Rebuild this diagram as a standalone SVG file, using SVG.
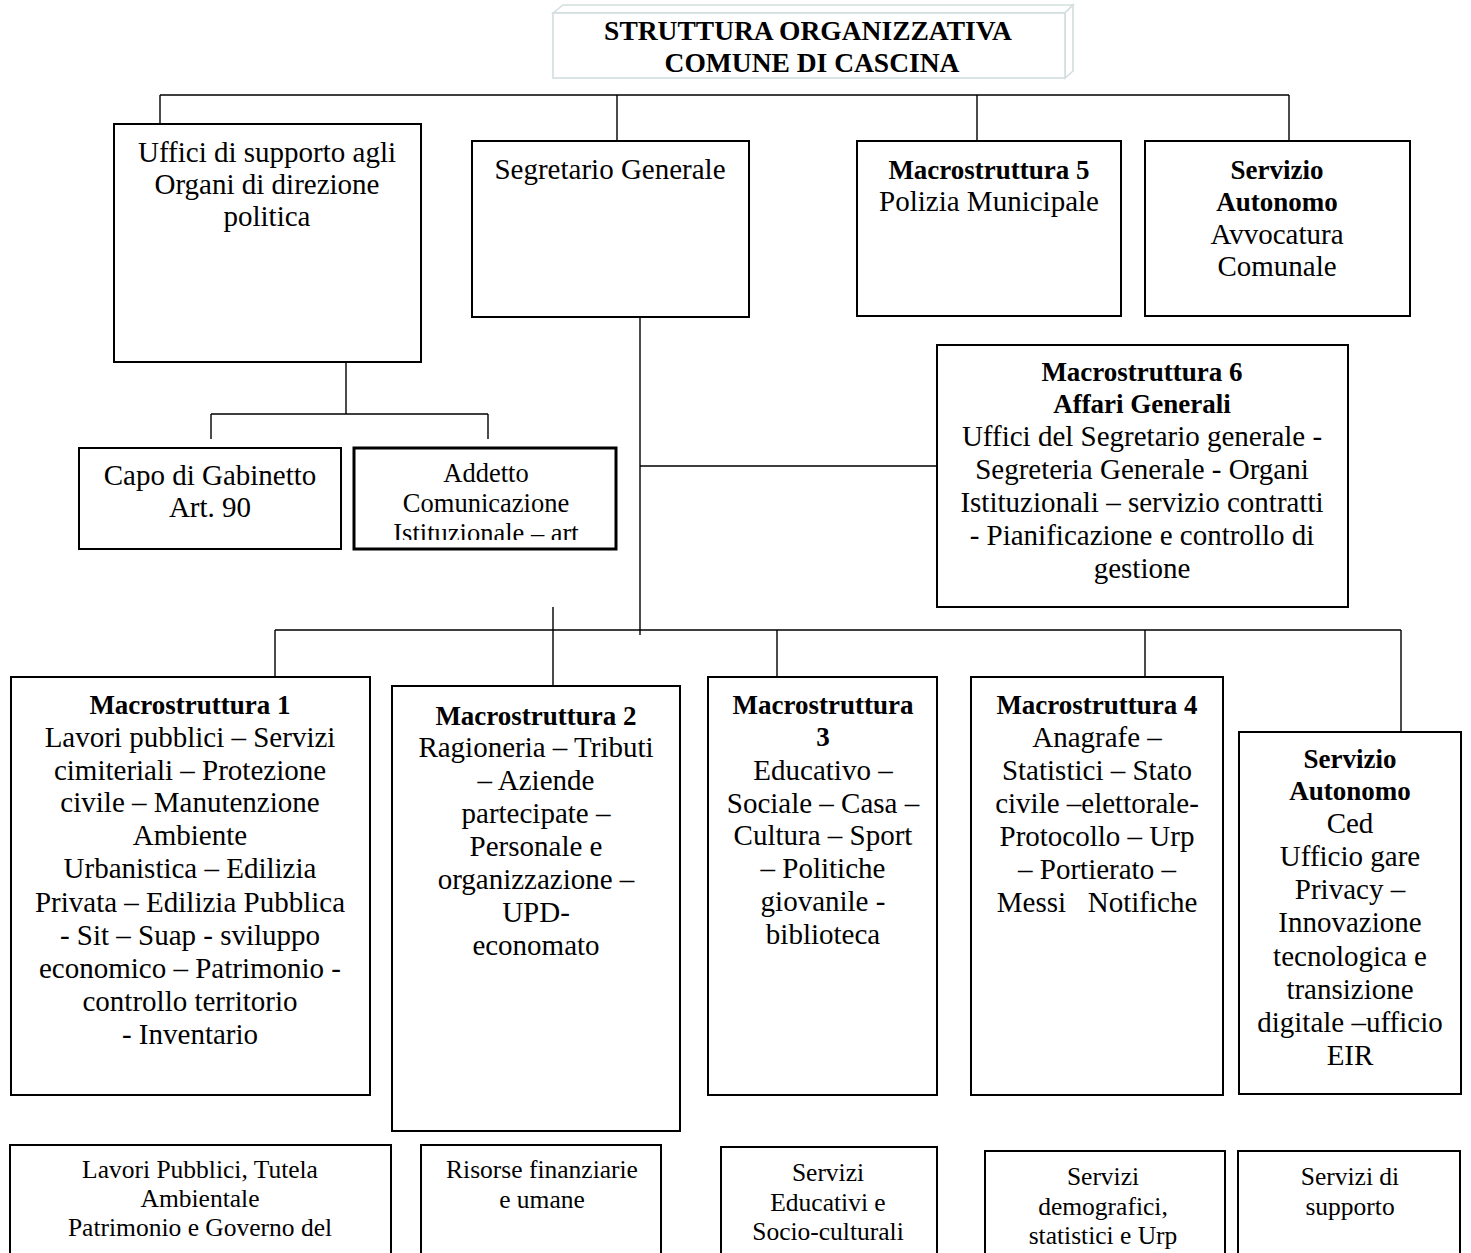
<svg xmlns="http://www.w3.org/2000/svg" width="1471" height="1253" viewBox="0 0 1471 1253">
<style>
.box{fill:#fff;stroke:#000;stroke-width:2}
.thick{stroke-width:3}
.ln{fill:none;stroke:#000;stroke-width:1.4}
.tb{fill:#fff;stroke:#d3dede;stroke-width:1.6}
text{fill:#000;text-anchor:middle}
.r{font-size:29px}
.b{font-size:27px;font-weight:bold}
.s{font-size:26.5px}
.t{font-size:25.5px}
.h{font-size:27.5px;font-weight:bold}
</style>
<defs>
<clipPath id="clipAdd"><rect x="356" y="450" width="259" height="90"/></clipPath>
</defs>
<rect width="1471" height="1253" fill="#fff"/>

<g id="connectors">
<path class="ln" d="M160 95H1289M160 95V124M617 95V141M977 95V141M1289 95V141"/>
<path class="ln" d="M346 362V414M211 414H488M211 414V439M488 414V439"/>
<path class="ln" d="M640 317V635M640 466H937"/>
<path class="ln" d="M275 630H1401M275 630V677M553 607V686M777 630V677M1145 630V677M1401 630V732"/>
</g>

<g font-family="'Liberation Serif','DejaVu Serif',serif">
<g id="title">
<polygon class="tb" points="553,13 563,5 1073,5 1065,13"/>
<polygon class="tb" points="1065,13 1073,5 1073,71 1065,78"/>
<rect class="tb" x="553" y="13" width="512" height="65"/>
<text class="h" x="808" y="40">STRUTTURA ORGANIZZATIVA</text>
<text class="h" x="812" y="72">COMUNE DI CASCINA</text>
</g>

<g id="uffici">
<rect class="box" x="114" y="124" width="307" height="238"/>
<text class="r" x="267" y="162">Uffici di supporto agli</text>
<text class="r" x="267" y="194">Organi di direzione</text>
<text class="r" x="267" y="226">politica</text>
</g>

<g id="segretario">
<rect class="box" x="472" y="141" width="277" height="176"/>
<text class="r" x="610" y="179">Segretario Generale</text>
</g>

<g id="macro5">
<rect class="box" x="857" y="141" width="264" height="175"/>
<text class="b" x="989" y="179">Macrostruttura 5</text>
<text class="r" x="989" y="211">Polizia Municipale</text>
</g>

<g id="avvocatura">
<rect class="box" x="1145" y="141" width="265" height="175"/>
<text class="b" x="1277" y="179">Servizio</text>
<text class="b" x="1277" y="211">Autonomo</text>
<text class="r" x="1277" y="244">Avvocatura</text>
<text class="r" x="1277" y="276">Comunale</text>
</g>

<g id="capo">
<rect class="box" x="79" y="448" width="262" height="101"/>
<text class="r" x="210" y="485">Capo di Gabinetto</text>
<text class="r" x="210" y="517">Art. 90</text>
</g>

<g id="addetto">
<rect class="box thick" x="354" y="448" width="262" height="101"/>
<g clip-path="url(#clipAdd)">
<text class="s" x="486" y="482">Addetto</text>
<text class="s" x="486" y="512">Comunicazione</text>
<text class="s" x="486" y="542">Istituzionale – art</text>
</g>
</g>

<g id="macro6">
<rect class="box" x="937" y="345" width="411" height="262"/>
<text class="b" x="1142" y="381">Macrostruttura 6</text>
<text class="b" x="1142" y="413">Affari Generali</text>
<text class="r" x="1142" y="446">Uffici del Segretario generale -</text>
<text class="r" x="1142" y="479">Segreteria Generale - Organi</text>
<text class="r" x="1142" y="512">Istituzionali – servizio contratti</text>
<text class="r" x="1142" y="545">- Pianificazione e controllo di</text>
<text class="r" x="1142" y="578">gestione</text>
</g>

<g id="macro1">
<rect class="box" x="11" y="677" width="359" height="418"/>
<text class="b" x="190" y="714">Macrostruttura 1</text>
<text class="r" x="190" y="747">Lavori pubblici – Servizi</text>
<text class="r" x="190" y="780">cimiteriali – Protezione</text>
<text class="r" x="190" y="812">civile – Manutenzione</text>
<text class="r" x="190" y="845">Ambiente</text>
<text class="r" x="190" y="878">Urbanistica – Edilizia</text>
<text class="r" x="190" y="912">Privata – Edilizia Pubblica</text>
<text class="r" x="190" y="945">- Sit – Suap - sviluppo</text>
<text class="r" x="190" y="978">economico – Patrimonio -</text>
<text class="r" x="190" y="1011">controllo territorio</text>
<text class="r" x="190" y="1044">- Inventario</text>
</g>

<g id="macro2">
<rect class="box" x="392" y="686" width="288" height="445"/>
<text class="b" x="536" y="725">Macrostruttura 2</text>
<text class="r" x="536" y="757">Ragioneria – Tributi</text>
<text class="r" x="536" y="790">– Aziende</text>
<text class="r" x="536" y="823">partecipate –</text>
<text class="r" x="536" y="856">Personale e</text>
<text class="r" x="536" y="889">organizzazione –</text>
<text class="r" x="536" y="922">UPD-</text>
<text class="r" x="536" y="955">economato</text>
</g>

<g id="macro3">
<rect class="box" x="708" y="677" width="229" height="418"/>
<text class="b" x="823" y="714">Macrostruttura</text>
<text class="b" x="823" y="746">3</text>
<text class="r" x="823" y="780">Educativo –</text>
<text class="r" x="823" y="813">Sociale – Casa –</text>
<text class="r" x="823" y="845">Cultura – Sport</text>
<text class="r" x="823" y="878">– Politiche</text>
<text class="r" x="823" y="911">giovanile -</text>
<text class="r" x="823" y="944">biblioteca</text>
</g>

<g id="macro4">
<rect class="box" x="971" y="677" width="252" height="418"/>
<text class="b" x="1097" y="714">Macrostruttura 4</text>
<text class="r" x="1097" y="747">Anagrafe –</text>
<text class="r" x="1097" y="780">Statistici – Stato</text>
<text class="r" x="1097" y="813">civile –elettorale-</text>
<text class="r" x="1097" y="846">Protocollo – Urp</text>
<text class="r" x="1097" y="879">– Portierato –</text>
<text class="r" x="1097" y="912" xml:space="preserve">Messi   Notifiche</text>
</g>

<g id="servizio-ced">
<rect class="box" x="1239" y="732" width="222" height="362"/>
<text class="b" x="1350" y="768">Servizio</text>
<text class="b" x="1350" y="800">Autonomo</text>
<text class="r" x="1350" y="833">Ced</text>
<text class="r" x="1350" y="866">Ufficio gare</text>
<text class="r" x="1350" y="899">Privacy –</text>
<text class="r" x="1350" y="932">Innovazione</text>
<text class="r" x="1350" y="966">tecnologica e</text>
<text class="r" x="1350" y="999">transizione</text>
<text class="r" x="1350" y="1032">digitale –ufficio</text>
<text class="r" x="1350" y="1065">EIR</text>
</g>

<g id="area-lavori">
<rect class="box" x="10" y="1145" width="381" height="130"/>
<text class="t" x="200" y="1178">Lavori Pubblici, Tutela</text>
<text class="t" x="200" y="1207">Ambientale</text>
<text class="t" x="200" y="1236">Patrimonio e Governo del</text>
</g>

<g id="area-risorse">
<rect class="box" x="421" y="1145" width="240" height="130"/>
<text class="t" x="542" y="1178">Risorse finanziarie</text>
<text class="t" x="542" y="1208">e umane</text>
</g>

<g id="area-educativi">
<rect class="box" x="721" y="1147" width="216" height="130"/>
<text class="t" x="828" y="1181">Servizi</text>
<text class="t" x="828" y="1211">Educativi e</text>
<text class="t" x="828" y="1240">Socio-culturali</text>
</g>

<g id="area-demografici">
<rect class="box" x="985" y="1151" width="240" height="130"/>
<text class="t" x="1103" y="1185">Servizi</text>
<text class="t" x="1103" y="1215">demografici,</text>
<text class="t" x="1103" y="1244">statistici e Urp</text>
</g>

<g id="area-supporto">
<rect class="box" x="1238" y="1151" width="222" height="130"/>
<text class="t" x="1350" y="1185">Servizi di</text>
<text class="t" x="1350" y="1215">supporto</text>
</g>
</g>
</svg>
